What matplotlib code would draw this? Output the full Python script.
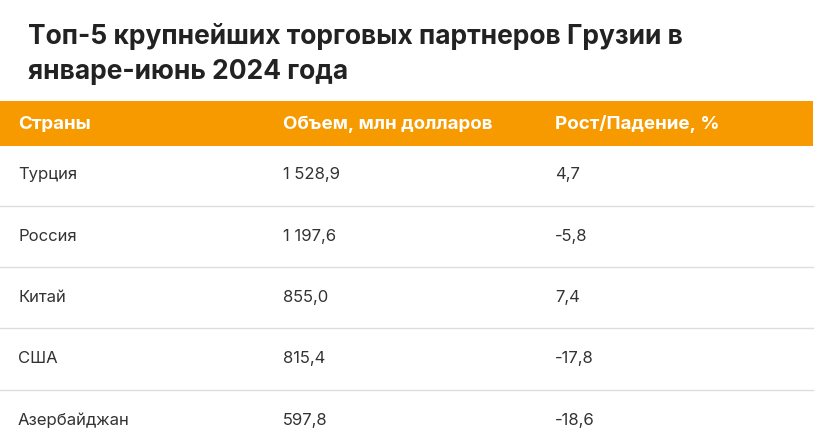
import matplotlib
matplotlib.use("Agg")
import matplotlib.pyplot as plt
from matplotlib.patches import Rectangle

title_lines = ["Топ-5 крупнейших торговых партнеров Грузии в", "январе-июнь 2024 года"]
headers = ["Страны", "Объем, млн долларов", "Рост/Падение, %"]
countries = ["Турция", "Россия", "Китай", "США", "Азербайджан"]
volumes = ["1 528,9", "1 197,6", "855,0", "815,4", "597,8"]
growth = ["4,7", "-5,8", "7,4", "-17,8", "-18,6"]

W, H = 827, 446
fig = plt.figure(figsize=(W/100, H/100), dpi=100)
ax = fig.add_axes([0, 0, 1, 1])
ax.set_xlim(0, W); ax.set_ylim(H, 0); ax.axis("off")

FAM = "Inter"
ax.text(28, 36, title_lines[0], fontsize=19, fontweight="bold", family=FAM, color="#222222", va="center")
ax.text(28, 72, title_lines[1], fontsize=19, fontweight="bold", family=FAM, color="#222222", va="center")

ax.add_patch(Rectangle((0, 101), 813, 45, color="#F79A00", lw=0))
cols = [18, 283, 555]
for x, h in zip(cols, headers):
    ax.text(x, 124, h, fontsize=13.5, fontweight="bold", family=FAM, color="white", va="center")

row_h = 61.3
for i, (c, v, g) in enumerate(zip(countries, volumes, growth)):
    yc = 175 + i * row_h
    for x, t in zip(cols, (c, v, g)):
        ax.text(x, yc, t, fontsize=12, family=FAM, color="#333333", va="center")
    if i < len(countries) - 1:
        ax.plot([0, 813], [yc + row_h/2, yc + row_h/2], color="#dddddd", lw=1)

fig.savefig("out.png", dpi=100, facecolor="white")
